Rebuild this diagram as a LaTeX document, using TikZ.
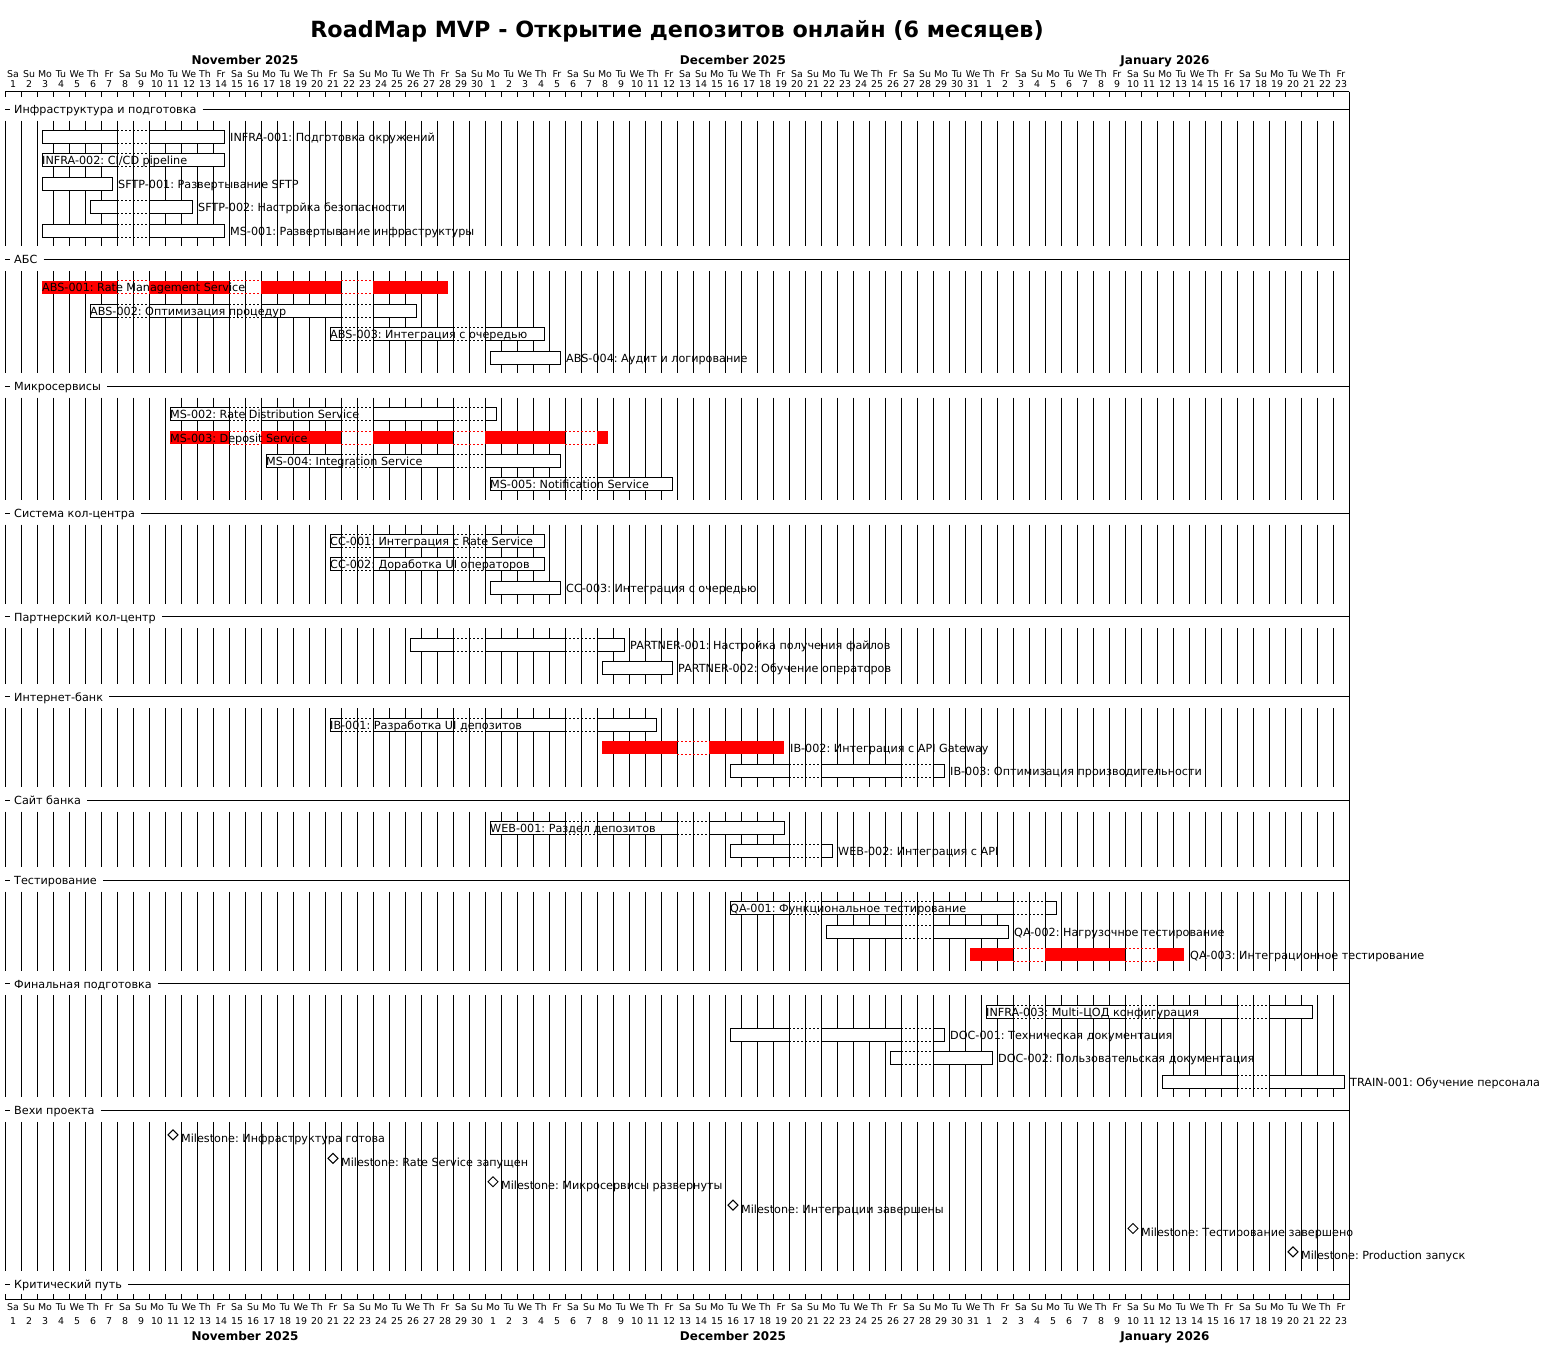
\documentclass[tikz,border=0pt]{standalone}
\usepackage{fontspec}
\setmainfont{DejaVu Sans}
\frenchspacing
\newcommand\fL{\fontsize{11.2}{13}\selectfont}
\newcommand\fD{\fontsize{9.4}{10}\selectfont}
\newcommand\fM{\bfseries\fontsize{12}{14}\selectfont}
\newcommand\fT{\bfseries\fontsize{22.3}{26}\selectfont}
\tikzset{
  lw/.style={line width=1pt},
  lbl/.style={font=\fL, anchor=base west, inner sep=0pt},
  dlab/.style={font=\fD, anchor=base, inner sep=0pt},
  mlab/.style={font=\fM, anchor=base, inner sep=0pt},
  gapline/.style={line width=1pt, dash pattern=on 2pt off 2pt},
  mstone/.style={line width=1pt, draw=black, fill=white},
}
% section: name, H, text, next H (0 = none)
\newcommand\gsec[4]{%
  \coordinate (#1y) at (5,#2);
  \draw[lw] (5,#2) -- (10,#2);
  \node[lbl] (#1) at (14,#2+4.5) {#3};
  \draw[lw] ([xshift=6pt]#1.east |- #1y) -- (1349,#2);
  \ifdim#4pt>0pt
    \foreach \k in {0,...,83}{\draw[lw] (5+16*\k,#2+11.5) -- (5+16*\k,#4-13);}
  \fi
}
% task: name, y, first day, last day, red(0/1), label outside(0/1), text
\newcommand\gtask[7]{%
  \ifnum#5=1 \def\tc{red}\def\tf{red}\else\def\tc{black}\def\tf{white}\fi
  \foreach \d in {#3,...,#4}{%
    \pgfmathtruncatemacro\wdm{mod(\d,7)}%
    \pgfmathtruncatemacro\iS{(\d==#3) || (\wdm==2) ? 1 : 0}%
    \pgfmathtruncatemacro\iE{(\d==#4) || (\wdm==6) ? 1 : 0}%
    \pgfmathsetmacro\xl{\d==#3 ? 10+16*\d : 5+16*\d}%
    \pgfmathsetmacro\xr{\d==#4 ? 16+16*\d : 21+16*\d}%
    \pgfmathsetmacro\xlf{\iS==1 ? \xl : \xl-0.6}%
    \pgfmathsetmacro\xrf{\iE==1 ? \xr : \xr+0.6}%
    \ifnum\wdm<2\relax
      \draw[gapline,color=\tc] (\xl,#2-6.5) -- (\xr,#2-6.5) (\xl,#2+6.5) -- (\xr,#2+6.5);
    \else
      \fill[fill=\tf] (\xlf,#2-6.5) rectangle (\xrf,#2+6.5);
      \ifnum#5=0\relax
        \draw[lw,line cap=rect] (\xlf,#2-6.5) -- (\xrf,#2-6.5) (\xlf,#2+6.5) -- (\xrf,#2+6.5);
        \ifnum\iS=1\relax \draw[lw] (\xl,#2-6.5) -- (\xl,#2+6.5);\fi
        \ifnum\iE=1\relax \draw[lw] (\xr,#2-6.5) -- (\xr,#2+6.5);\fi
      \fi
    \fi
  }%
  \ifnum#6=0\relax
    \node[lbl] (#1) at (10+16*#3,#2+4.5) {#7};
  \else
    \node[lbl] (#1) at (22+16*#4,#2+4.5) {#7};
  \fi
}
% milestone: name, y, day, text
\newcommand\gmile[4]{%
  \draw[mstone] (13+16*#3,#2-8.5) -- (18+16*#3,#2-3.5) -- (13+16*#3,#2+1.5) -- (8+16*#3,#2-3.5) -- cycle;
  \node[lbl] (#1) at (21+16*#3,#2+4.5) {#4};
}
\begin{document}
\begin{tikzpicture}[x=1pt,y=-1pt]
\useasboundingbox (0,0) rectangle (1552,1346);
\fill[white] (0,0) rectangle (1552,1346);
% title
\node[font=\fT, anchor=base, inner sep=0pt] (title) at (677,37.5) {RoadMap MVP - Открытие депозитов онлайн (6 месяцев)};
% months
\node[mlab] (mnovT) at (245,65) {November 2025};
\node[mlab] (mdecT) at (733,65) {December 2025};
\node[mlab] (mjanT) at (1165,65) {January 2026};
\node[mlab] (mnovB) at (245,1340) {November 2025};
\node[mlab] (mdecB) at (733,1340) {December 2025};
\node[mlab] (mjanB) at (1165,1340) {January 2026};
% day labels
\foreach \d in {0,...,83}{
  \pgfmathtruncatemacro\wdm{mod(\d,7)}
  \pgfmathtruncatemacro\dnum{\d<30 ? \d+1 : (\d<61 ? \d-29 : \d-60)}
  \node[dlab] (tn\d) at (13+16*\d,77.3) {\ifcase\wdm Sa\or Su\or Mo\or Tu\or We\or Th\or Fr\fi};
  \node[dlab] (tu\d) at (13+16*\d,87.5) {\dnum};
  \node[dlab] (bn\d) at (13+16*\d,1310) {\ifcase\wdm Sa\or Su\or Mo\or Tu\or We\or Th\or Fr\fi};
  \node[dlab] (bu\d) at (13+16*\d,1324.5) {\dnum};
}
% frame and ticks
\foreach \k in {0,...,84}{
  \draw[lw] (5+16*\k,91.5) -- (5+16*\k,97);
  \draw[lw] (5+16*\k,1294) -- (5+16*\k,1299.5);
}
\draw[lw] (5,91.5) -- (1349,91.5);
\draw[lw] (5,1299.5) -- (1349,1299.5);
\draw[lw] (1349,91.5) -- (1349,1299.5);

% sections and tasks
\gsec{s1}{109}{Инфраструктура и подготовка}{259.3}
\gtask{infraA}{137}{2}{13}{0}{1}{INFRA-001: Подготовка окружений}
\gtask{infraB}{160.4}{2}{13}{0}{0}{INFRA-002: CI/CD pipeline}
\gtask{sftpA}{183.8}{2}{6}{0}{1}{SFTP-001: Развертывание SFTP}
\gtask{sftpB}{207.2}{5}{11}{0}{1}{SFTP-002: Настройка безопасности}
\gtask{msA}{230.6}{2}{13}{0}{1}{MS-001: Развертывание инфраструктуры}

\gsec{s2}{259.3}{АБС}{386.1}
\gtask{absA}{287.3}{2}{27}{1}{0}{ABS-001: Rate Management Service}
\gtask{absB}{310.7}{5}{25}{0}{0}{ABS-002: Оптимизация процедур}
\gtask{absC}{334.1}{20}{33}{0}{0}{ABS-003: Интеграция с очередью}
\gtask{absD}{357.5}{30}{34}{0}{1}{ABS-004: Аудит и логирование}

\gsec{s3}{386.1}{Микросервисы}{513}
\gtask{msB}{414.1}{10}{30}{0}{0}{MS-002: Rate Distribution Service}
\gtask{msC}{437.5}{10}{37}{1}{0}{MS-003: Deposit Service}
\gtask{msD}{460.9}{16}{34}{0}{0}{MS-004: Integration Service}
\gtask{msE}{484.3}{30}{41}{0}{0}{MS-005: Notification Service}

\gsec{s4}{513}{Система кол-центра}{616.5}
\gtask{ccA}{541}{20}{33}{0}{0}{CC-001: Интеграция с Rate Service}
\gtask{ccB}{564.4}{20}{33}{0}{0}{CC-002: Доработка UI операторов}
\gtask{ccC}{587.8}{30}{34}{0}{1}{CC-003: Интеграция с очередью}

\gsec{s5}{616.5}{Партнерский кол-центр}{696.5}
\gtask{ptA}{644.5}{25}{38}{0}{1}{PARTNER-001: Настройка получения файлов}
\gtask{ptB}{667.9}{37}{41}{0}{1}{PARTNER-002: Обучение операторов}

\gsec{s6}{696.5}{Интернет-банк}{800}
\gtask{ibA}{724.5}{20}{40}{0}{0}{IB-001: Разработка UI депозитов}
\gtask{ibB}{747.9}{37}{48}{1}{1}{IB-002: Интеграция с API Gateway}
\gtask{ibC}{771.3}{45}{58}{0}{1}{IB-003: Оптимизация производительности}

\gsec{s7}{800}{Сайт банка}{880.1}
\gtask{webA}{828}{30}{48}{0}{0}{WEB-001: Раздел депозитов}
\gtask{webB}{851.4}{45}{51}{0}{1}{WEB-002: Интеграция с API}

\gsec{s8}{880.1}{Тестирование}{983.5}
\gtask{qaA}{908.1}{45}{65}{0}{0}{QA-001: Функциональное тестирование}
\gtask{qaB}{931.5}{51}{62}{0}{1}{QA-002: Нагрузочное тестирование}
\gtask{qaC}{954.9}{60}{73}{1}{1}{QA-003: Интеграционное тестирование}

\gsec{s9}{983.5}{Финальная подготовка}{1110.4}
\gtask{infraC}{1011.5}{61}{81}{0}{0}{INFRA-003: Multi-ЦОД конфигурация}
\gtask{docA}{1034.9}{45}{58}{0}{1}{DOC-001: Техническая документация}
\gtask{docB}{1058.3}{55}{61}{0}{1}{DOC-002: Пользовательская документация}
\gtask{train}{1081.7}{72}{83}{0}{1}{TRAIN-001: Обучение персонала}

\gsec{s10}{1110.4}{Вехи проекта}{1284}
\gmile{mA}{1138.4}{10}{Milestone: Инфраструктура готова}
\gmile{mB}{1161.8}{20}{Milestone: Rate Service запущен}
\gmile{mC}{1185.2}{30}{Milestone: Микросервисы развернуты}
\gmile{mD}{1208.6}{45}{Milestone: Интеграции завершены}
\gmile{mE}{1232}{70}{Milestone: Тестирование завершено}
\gmile{mF}{1255.4}{80}{Milestone: Production запуск}

\gsec{s11}{1284}{Критический путь}{0}
\end{tikzpicture}
\end{document}
